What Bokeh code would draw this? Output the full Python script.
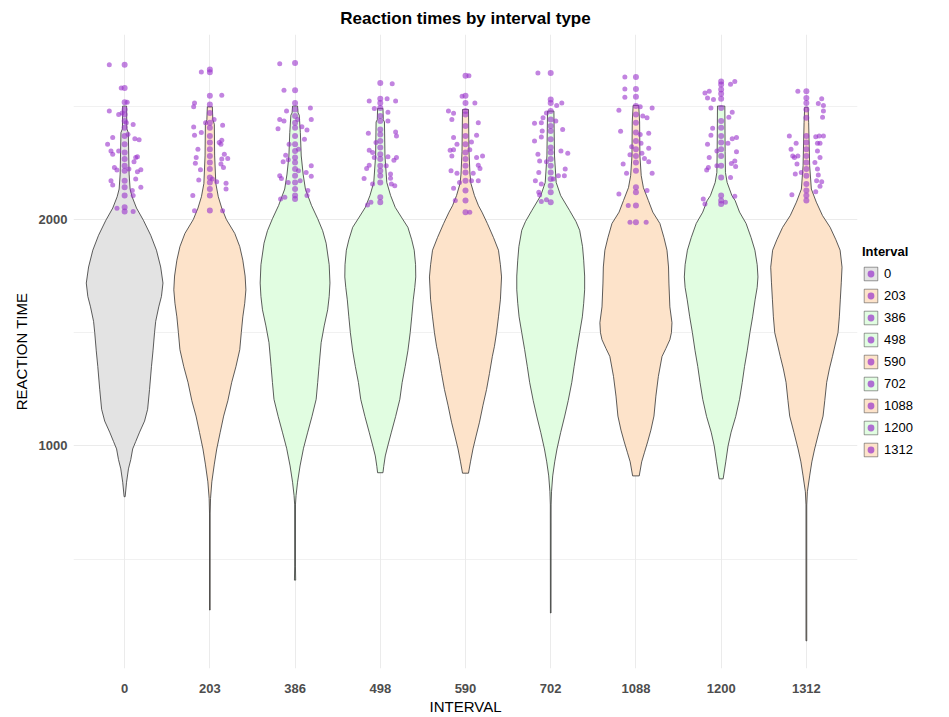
from bokeh.plotting import figure
from bokeh.layouts import row
from bokeh.models import Range1d, FixedTicker, Legend, LegendItem
from bokeh.embed import file_html
from bokeh.resources import INLINE

# ---------------- data ----------------
intervals = ["0", "203", "386", "498", "590", "702", "1088", "1200", "1312"]
y_major_ticks = [1000, 2000]
y_minor_ticks = [500, 1500, 2500]

# violin outlines: reaction-time levels and relative density (1 = widest violin)
rt_0 = [2500, 2400, 2383, 2200, 2134, 2100, 2050, 1996, 1930, 1864, 1790, 1719, 1660, 1614, 1550, 1500, 1420, 1351, 1250, 1162, 1110, 1061, 1020, 987, 940, 899, 840, 776]
den_0 = [0.052, 0.057, 0.096, 0.117, 0.143, 0.195, 0.31, 0.49, 0.68, 0.83, 0.94, 1.0, 0.96, 0.89, 0.81, 0.78, 0.74, 0.70, 0.65, 0.60, 0.52, 0.39, 0.29, 0.21, 0.16, 0.10, 0.05, 0.013]

rt_203 = [2497, 2440, 2420, 2280, 2158, 2100, 2050, 2000, 1938, 1880, 1820, 1750, 1689, 1630, 1570, 1500, 1425, 1350, 1281, 1200, 1132, 1060, 987, 920, 842, 768, 700, 276]
den_203 = [0.065, 0.078, 0.117, 0.125, 0.156, 0.22, 0.31, 0.43, 0.65, 0.78, 0.86, 0.92, 0.94, 0.91, 0.86, 0.82, 0.78, 0.68, 0.57, 0.47, 0.36, 0.27, 0.18, 0.117, 0.052, 0.018, 0.008, 0.008]

rt_386 = [2500, 2470, 2460, 2383, 2280, 2200, 2134, 2061, 2003, 1950, 1895, 1800, 1719, 1660, 1601, 1530, 1456, 1351, 1280, 1206, 1130, 1061, 990, 912, 840, 781, 740, 470, 408]
den_386 = [0.065, 0.078, 0.109, 0.138, 0.161, 0.21, 0.27, 0.43, 0.59, 0.72, 0.81, 0.89, 0.91, 0.89, 0.85, 0.76, 0.68, 0.625, 0.59, 0.55, 0.44, 0.33, 0.22, 0.13, 0.065, 0.026, 0.01, 0.01, 0.016]

rt_498 = [2490, 2440, 2430, 2280, 2163, 2105, 2053, 2010, 1965, 1910, 1864, 1800, 1746, 1700, 1645, 1570, 1500, 1420, 1351, 1280, 1206, 1130, 1061, 1000, 956, 910, 882]
den_498 = [0.07, 0.078, 0.109, 0.122, 0.17, 0.27, 0.39, 0.55, 0.72, 0.82, 0.885, 0.92, 0.925, 0.90, 0.86, 0.82, 0.78, 0.72, 0.65, 0.57, 0.51, 0.40, 0.29, 0.195, 0.13, 0.09, 0.07]

rt_590 = [2485, 2300, 2200, 2158, 2105, 2060, 2032, 1982, 1920, 1864, 1800, 1746, 1645, 1570, 1500, 1440, 1395, 1320, 1250, 1180, 1105, 1040, 987, 930, 880]
den_590 = [0.078, 0.091, 0.117, 0.143, 0.234, 0.34, 0.43, 0.57, 0.73, 0.86, 0.91, 0.94, 0.91, 0.86, 0.81, 0.755, 0.70, 0.625, 0.55, 0.456, 0.365, 0.27, 0.195, 0.13, 0.078]

rt_702 = [2478, 2280, 2163, 2105, 2040, 1990, 1952, 1880, 1820, 1750, 1689, 1630, 1570, 1500, 1425, 1350, 1281, 1200, 1132, 1060, 987, 930, 868, 798, 740, 263]
den_702 = [0.083, 0.099, 0.143, 0.26, 0.49, 0.66, 0.755, 0.83, 0.86, 0.885, 0.885, 0.86, 0.825, 0.755, 0.68, 0.61, 0.55, 0.456, 0.365, 0.26, 0.164, 0.104, 0.052, 0.021, 0.01, 0.008]

rt_1088 = [2503, 2430, 2280, 2193, 2140, 2083, 2032, 1982, 1920, 1864, 1790, 1719, 1614, 1544, 1500, 1469, 1430, 1395, 1307, 1220, 1132, 1070, 1018, 970, 930, 868]
den_1088 = [0.073, 0.096, 0.104, 0.138, 0.195, 0.325, 0.44, 0.625, 0.73, 0.81, 0.85, 0.86, 0.885, 0.94, 0.925, 0.885, 0.78, 0.68, 0.585, 0.52, 0.47, 0.39, 0.305, 0.22, 0.15, 0.086]

rt_1200 = [2500, 2300, 2207, 2163, 2105, 2083, 2032, 1982, 1920, 1864, 1800, 1746, 1700, 1645, 1570, 1500, 1420, 1351, 1280, 1206, 1130, 1061, 1000, 930, 855]
den_1200 = [0.096, 0.104, 0.112, 0.156, 0.28, 0.365, 0.48, 0.65, 0.78, 0.88, 0.94, 0.96, 0.94, 0.885, 0.82, 0.75, 0.68, 0.61, 0.55, 0.48, 0.38, 0.26, 0.18, 0.12, 0.052]

rt_1312 = [2495, 2427, 2237, 2134, 2076, 2017, 1965, 1910, 1864, 1789, 1720, 1645, 1570, 1500, 1450, 1395, 1340, 1281, 1200, 1132, 1060, 987, 930, 868, 798, 740, 140]
den_1312 = [0.044, 0.06, 0.086, 0.13, 0.26, 0.42, 0.62, 0.77, 0.88, 0.93, 0.91, 0.885, 0.86, 0.825, 0.755, 0.68, 0.60, 0.53, 0.48, 0.435, 0.325, 0.216, 0.143, 0.086, 0.026, 0.01, 0.01]

# individual slow responses: jittered points (offset in category units) and points on the centre line
jit_rt_0 = [2682, 2580, 2517, 2478, 2463, 2419, 2375, 2361, 2356, 2351, 2332, 2302, 2288, 2302, 2277, 2254, 2273, 2229, 2218, 2219, 2210, 2222, 2178, 2171, 2152, 2142, 2127, 2105, 2049, 2035, 2470, 2427]
jit_dx_0 = [-0.18, -0.04, 0.03, -0.18, -0.07, 0.10, 0.04, -0.14, 0.12, 0.17, -0.20, -0.16, -0.14, -0.07, 0.15, 0.11, 0.13, -0.12, -0.09, 0.19, 0.15, 0.05, 0.13, -0.16, -0.14, 0.19, 0.09, 0.10, -0.09, 0.10, -0.03, 0.02]
mid_rt_0 = [2682, 2580, 2517, 2485, 2463, 2434, 2405, 2368, 2332, 2295, 2266, 2237, 2215, 2171, 2142, 2105, 2054, 2035]

jit_rt_203 = [2650, 2548, 2514, 2497, 2441, 2427, 2415, 2408, 2371, 2383, 2339, 2349, 2332, 2310, 2288, 2269, 2273, 2248, 2266, 2244, 2229, 2219, 2178, 2166, 2159, 2174, 2134, 2105, 2038, 2038]
jit_dx_203 = [-0.10, 0.14, -0.18, -0.19, 0.05, -0.05, 0.15, -0.19, -0.18, -0.10, 0.11, 0.14, 0.13, -0.14, 0.17, 0.21, -0.16, -0.17, 0.14, 0.13, 0.16, -0.11, 0.03, 0.08, 0.19, -0.13, 0.19, -0.20, -0.18, 0.15]
mid_rt_203 = [2661, 2649, 2546, 2507, 2470, 2427, 2405, 2368, 2339, 2310, 2280, 2251, 2222, 2185, 2163, 2134, 2105, 2039]

jit_rt_386 = [2687, 2570, 2478, 2492, 2441, 2434, 2400, 2441, 2409, 2394, 2441, 2354, 2332, 2310, 2283, 2254, 2263, 2237, 2215, 2207, 2190, 2193, 2181, 2163, 2171, 2127, 2098, 2090, 2105]
jit_dx_386 = [-0.18, -0.13, -0.10, 0.18, -0.18, -0.13, -0.20, 0.03, 0.08, 0.14, 0.19, 0.11, -0.07, 0.04, -0.11, -0.14, -0.08, 0.19, 0.04, 0.13, 0.19, -0.18, -0.16, -0.08, 0.06, 0.15, -0.12, -0.17, 0.14]
mid_rt_386 = [2690, 2570, 2514, 2485, 2456, 2427, 2405, 2368, 2332, 2302, 2273, 2251, 2222, 2193, 2163, 2134, 2105, 2090]

jit_rt_498 = [2599, 2522, 2532, 2522, 2489, 2473, 2434, 2380, 2386, 2368, 2339, 2305, 2295, 2273, 2276, 2273, 2261, 2239, 2225, 2237, 2181, 2200, 2182, 2156, 2156, 2149, 2076, 2064]
jit_dx_498 = [0.14, -0.13, 0.08, 0.18, -0.07, 0.09, 0.09, -0.14, 0.18, 0.19, -0.05, -0.13, -0.09, -0.07, 0.09, 0.19, 0.16, -0.13, -0.16, 0.07, -0.19, 0.12, 0.12, -0.09, 0.13, 0.17, -0.11, -0.15]
mid_rt_498 = [2602, 2532, 2514, 2492, 2456, 2434, 2397, 2375, 2346, 2317, 2288, 2266, 2237, 2215, 2193, 2163, 2098, 2076]

jit_rt_590 = [2634, 2544, 2514, 2478, 2468, 2441, 2427, 2371, 2361, 2332, 2342, 2305, 2307, 2307, 2280, 2280, 2273, 2239, 2225, 2215, 2204, 2204, 2171, 2171, 2163, 2137, 2083, 2032]
jit_dx_590 = [0.04, -0.04, 0.11, -0.20, -0.14, -0.16, 0.15, 0.13, -0.14, -0.10, 0.07, -0.18, -0.14, 0.05, -0.16, 0.20, 0.13, 0.15, 0.17, -0.17, -0.10, 0.09, 0.07, 0.15, -0.07, -0.14, -0.12, 0.05]
mid_rt_590 = [2634, 2546, 2514, 2478, 2463, 2412, 2368, 2332, 2295, 2266, 2237, 2207, 2171, 2127, 2083, 2032]

jit_rt_702 = [2646, 2514, 2503, 2470, 2449, 2427, 2424, 2434, 2390, 2397, 2364, 2346, 2302, 2292, 2288, 2258, 2254, 2222, 2207, 2193, 2193, 2178, 2171, 2156, 2120, 2108, 2079, 2087]
jit_dx_702 = [-0.15, 0.13, 0.07, -0.05, -0.09, -0.11, -0.19, 0.06, -0.10, 0.14, -0.11, -0.19, 0.12, 0.20, -0.15, -0.13, -0.05, 0.17, -0.14, 0.09, 0.16, 0.03, -0.18, -0.11, -0.14, -0.13, -0.11, -0.05]
mid_rt_702 = [2646, 2529, 2514, 2478, 2441, 2412, 2390, 2354, 2317, 2295, 2266, 2237, 2207, 2178, 2149, 2120, 2076]

jit_rt_1088 = [2628, 2576, 2539, 2482, 2497, 2492, 2456, 2449, 2389, 2380, 2375, 2336, 2321, 2314, 2292, 2285, 2269, 2254, 2244, 2204, 2204, 2112, 2127, 2061, 1987, 1987]
jit_dx_1088 = [-0.13, -0.13, -0.13, -0.20, 0.05, 0.19, 0.08, 0.13, -0.18, 0.15, 0.05, 0.06, -0.05, 0.15, 0.07, -0.07, 0.10, 0.15, -0.15, -0.11, 0.19, -0.20, 0.13, -0.09, -0.07, 0.12]
mid_rt_1088 = [2628, 2576, 2541, 2500, 2463, 2427, 2383, 2346, 2310, 2280, 2251, 2215, 2142, 2120, 2061, 1987]

jit_rt_1200 = [2609, 2596, 2558, 2565, 2536, 2529, 2492, 2473, 2451, 2402, 2371, 2361, 2356, 2336, 2332, 2302, 2298, 2273, 2258, 2247, 2237, 2234, 2229, 2218, 2185, 2102, 2090, 2068, 2076]
jit_dx_1200 = [0.16, 0.11, -0.19, -0.14, -0.16, -0.09, -0.12, 0.13, 0.09, -0.10, -0.12, 0.18, 0.13, 0.08, -0.16, -0.05, 0.18, -0.14, 0.16, 0.12, -0.05, 0.17, -0.15, -0.17, 0.11, 0.16, -0.21, -0.19, 0.05]
mid_rt_1200 = [2609, 2595, 2573, 2555, 2532, 2492, 2434, 2405, 2368, 2339, 2310, 2280, 2237, 2185, 2105, 2083, 2068]

jit_rt_1312 = [2565, 2532, 2511, 2503, 2478, 2451, 2368, 2336, 2310, 2365, 2368, 2368, 2336, 2336, 2302, 2280, 2273, 2244, 2280, 2273, 2251, 2222, 2200, 2207, 2196, 2166, 2171, 2146, 2109, 2122]
jit_dx_1312 = [-0.10, 0.18, 0.14, 0.20, 0.20, 0.19, -0.20, -0.12, -0.18, 0.11, 0.15, 0.20, 0.13, 0.16, 0.13, -0.10, -0.14, -0.11, -0.16, 0.16, 0.10, 0.13, -0.13, -0.06, 0.14, 0.18, 0.12, 0.16, -0.17, 0.11]
mid_rt_1312 = [2565, 2536, 2514, 2485, 2449, 2368, 2339, 2310, 2280, 2251, 2222, 2193, 2156, 2127, 2105, 2083]

violin_rt = [rt_0, rt_203, rt_386, rt_498, rt_590, rt_702, rt_1088, rt_1200, rt_1312]
violin_den = [den_0, den_203, den_386, den_498, den_590, den_702, den_1088, den_1200, den_1312]
jit_rt = [jit_rt_0, jit_rt_203, jit_rt_386, jit_rt_498, jit_rt_590, jit_rt_702, jit_rt_1088, jit_rt_1200, jit_rt_1312]
jit_dx = [jit_dx_0, jit_dx_203, jit_dx_386, jit_dx_498, jit_dx_590, jit_dx_702, jit_dx_1088, jit_dx_1200, jit_dx_1312]
mid_rt = [mid_rt_0, mid_rt_203, mid_rt_386, mid_rt_498, mid_rt_590, mid_rt_702, mid_rt_1088, mid_rt_1200, mid_rt_1312]

# ---------------- styles ----------------
GRAY, PEACH, GREEN = "#E3E3E3", "#FDE3CA", "#E1FDE1"
fill_colors = [GRAY, PEACH, GREEN, GREEN, PEACH, GREEN, PEACH, GREEN, PEACH]
POINT = "#9932CC"
OUTLINE = "#333333"
FONT = "Liberation Sans"
HALF_WIDTH = 0.45  # violin width 0.9 of a category

p = figure(width=862, height=717, output_backend="svg", toolbar_location=None,
           x_range=Range1d(0.4, len(intervals) + 0.6), y_range=Range1d(18, 2816))
p.min_border_left = 73
p.min_border_right = 5
p.min_border_top = 33
p.min_border_bottom = 46
p.outline_line_color = None
p.background_fill_color = "white"
p.border_fill_color = "white"

p.title.text = "Reaction times by interval type"
p.title.align = "center"
p.title.text_font = FONT
p.title.text_font_size = "17px"
p.title.text_font_style = "bold"
p.title.text_color = "black"
p.title.standoff = 13

for i, name in enumerate(intervals):
    pos = i + 1
    rts, dens = violin_rt[i], violin_den[i]
    xs = [pos + HALF_WIDTH * d for d in dens] + [pos - HALF_WIDTH * d for d in reversed(dens)]
    ys = list(rts) + list(reversed(rts))
    p.patch(xs, ys, fill_color=fill_colors[i], fill_alpha=1.0,
            line_color=OUTLINE, line_width=0.8)

for i, name in enumerate(intervals):
    pos = i + 1
    p.scatter([pos] * len(mid_rt[i]), mid_rt[i], size=6, fill_color=POINT, fill_alpha=0.6,
              line_color=None)
    p.scatter([pos + d for d in jit_dx[i]], jit_rt[i], size=5, fill_color=POINT,
              fill_alpha=0.6, line_color=None)

# axes
p.xaxis.ticker = FixedTicker(ticks=list(range(1, len(intervals) + 1)))
p.xaxis.major_label_overrides = {i + 1: name for i, name in enumerate(intervals)}
p.yaxis.ticker = FixedTicker(ticks=y_major_ticks, minor_ticks=y_minor_ticks)
p.xaxis.axis_label = "INTERVAL"
p.yaxis.axis_label = "REACTION TIME"
for ax in (p.xaxis, p.yaxis):
    ax.axis_line_color = None
    ax.major_tick_line_color = None
    ax.minor_tick_line_color = None
    ax.major_tick_out = 0
    ax.major_tick_in = 0
    ax.minor_tick_out = 0
    ax.minor_tick_in = 0
    ax.major_label_text_font = FONT
    ax.major_label_text_font_size = "13px"
    ax.major_label_text_font_style = "bold"
    ax.major_label_text_color = "#4D4D4D"
    ax.axis_label_text_font = FONT
    ax.axis_label_text_font_size = "15px"
    ax.axis_label_text_font_style = "normal"
    ax.axis_label_text_color = "black"
p.xaxis.major_label_standoff = 15
p.xaxis.axis_label_standoff = 2
p.yaxis.major_label_standoff = 6
p.yaxis.axis_label_standoff = 6

p.xgrid.ticker = FixedTicker(ticks=list(range(1, len(intervals) + 1)))
p.xgrid.grid_line_color = "#EBEBEB"
p.xgrid.grid_line_width = 1
p.ygrid.grid_line_color = "#EBEBEB"
p.ygrid.grid_line_width = 1
p.ygrid.minor_grid_line_color = "#EBEBEB"
p.ygrid.minor_grid_line_width = 0.7

# legend panel to the right (its key glyphs sit outside the visible range)
lf = figure(width=87, height=717, output_backend="svg", toolbar_location=None,
            x_range=Range1d(0, 1), y_range=Range1d(0, 1))
lf.min_border = 0
lf.axis.visible = False
lf.grid.visible = False
lf.outline_line_color = None
lf.background_fill_color = "white"
lf.border_fill_color = "white"

items = []
for i, name in enumerate(intervals):
    pr = lf.patch([-5, -4, -4], [-5, -5, -4], fill_color=fill_colors[i], line_color=OUTLINE,
                  line_width=0.8, line_alpha=0.6)
    sr = lf.scatter([-5], [-5], size=5, fill_color=POINT, fill_alpha=0.7, line_color=None)
    items.append(LegendItem(label=name, renderers=[pr, sr]))

legend = Legend(items=items)
legend.title = "Interval"
legend.title_text_font = FONT
legend.title_text_font_size = "13px"
legend.title_text_font_style = "bold"
legend.title_text_color = "black"
legend.title_standoff = 6
legend.label_text_font = FONT
legend.label_text_font_size = "13px"
legend.label_text_color = "black"
legend.glyph_width = 17
legend.glyph_height = 17
legend.label_height = 17
legend.label_standoff = 5
legend.spacing = 5
legend.padding = 3
legend.margin = 0
legend.border_line_color = None
legend.background_fill_alpha = 0
legend.location = (0, 210)
lf.add_layout(legend, "center")

open("out.html", "w").write(file_html(row(p, lf), INLINE))
